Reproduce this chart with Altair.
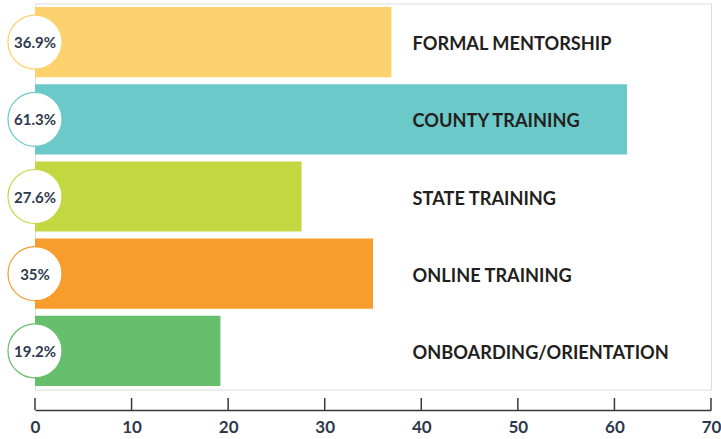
import altair as alt
import pandas as pd

categories = ["FORMAL MENTORSHIP", "COUNTY TRAINING", "STATE TRAINING", "ONLINE TRAINING", "ONBOARDING/ORIENTATION"]
values = [36.9, 61.3, 27.6, 35.0, 19.2]
value_labels = ["36.9%", "61.3%", "27.6%", "35%", "19.2%"]
colors = ["#FDD26E", "#6BC9C9", "#C3D840", "#F89C2B", "#66BF6C"]
tick_values = [0, 10, 20, 30, 40, 50, 60, 70]

df = pd.DataFrame({"cat": categories, "value": values, "label": value_labels, "color": colors,
                   "zero": [0] * len(categories), "labelx": [39.1] * len(categories)})
ticks_df = pd.DataFrame({"t": tick_values})

W, H = 676, 386
xscale = alt.Scale(domain=[0, 70], nice=False, zero=True)
yscale = alt.Scale(domain=categories, paddingInner=0.0909, paddingOuter=0.04545)

base = alt.Chart(df)

bars = base.mark_bar(cornerRadius=0).encode(
    x=alt.X("value:Q", scale=xscale,
            axis=alt.Axis(values=tick_values, title=None, grid=False, ticks=False, tickSize=0,
                          domain=True, domainColor="#3a3a3a", domainWidth=1.5, offset=20.5,
                          labelFont="Lato", labelFontWeight="bold", labelFontSize=17,
                          labelColor="#2E3A4C", labelPadding=9, labelFlush=False)),
    y=alt.Y("cat:N", scale=yscale, sort=None, axis=None),
    color=alt.Color("color:N", scale=None),
)

circles = base.mark_point(shape="circle", filled=False, fill="white", fillOpacity=1,
                          strokeWidth=1.2, size=2920, opacity=1).encode(
    x=alt.X("zero:Q", scale=xscale),
    y=alt.Y("cat:N", scale=yscale, sort=None),
    stroke=alt.Color("color:N", scale=None),
)

pct = base.mark_text(font="Lato", fontWeight="bold", fontSize=15, color="#2E3A4C",
                     align="center", baseline="middle", dy=1).encode(
    x=alt.X("zero:Q", scale=xscale),
    y=alt.Y("cat:N", scale=yscale, sort=None),
    text="label:N",
)

names = base.mark_text(font="Lato", fontWeight="bold", fontSize=18.2, color="#231F20",
                       align="left", baseline="middle", dy=3).encode(
    x=alt.X("labelx:Q", scale=xscale),
    y=alt.Y("cat:N", scale=yscale, sort=None),
    text="cat:N",
)

tick_rules = alt.Chart(ticks_df).mark_rule(color="#3a3a3a", strokeWidth=1.5).encode(
    x=alt.X("t:Q", scale=xscale),
    y=alt.value(H + 8.5),
    y2=alt.value(H + 20.5),
)

chart = alt.layer(bars, circles, pct, names, tick_rules).properties(
    width=W, height=H,
    autosize=alt.AutoSizeParams(type="none"),
    padding={"left": 35, "top": 3.5, "right": 10, "bottom": 49.5},
).configure_view(stroke=None).configure(background="white")

chart.save("out.html", embed_options={"renderer": "svg", "actions": False})
